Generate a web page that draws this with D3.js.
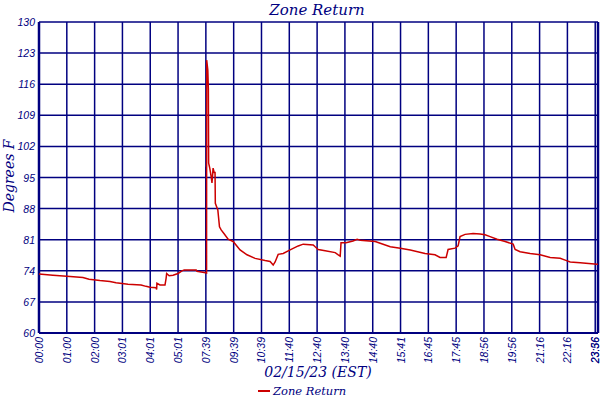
<!DOCTYPE html>
<html>
<head>
<meta charset="utf-8">
<script src="https://cdn.jsdelivr.net/npm/d3@7"></script>
<style>
  body { margin: 0; background: #fff; }
  svg { display: block; }
</style>
</head>
<body>
<svg id="chart"></svg>
<script>
// sample index (10 samples per tick) and temperature readings
var idx = [0, 5, 11.2, 15.8, 18, 21.9, 25.5, 27.7, 32, 36.7, 38.5, 39.9, 42.1, 42.3, 42.4, 43.5, 45.3, 45.7, 45.9, 46.8,
  48.2, 50, 51.4, 52.2, 56.5, 56.8, 59.4, 60.25, 60.3, 60.7, 60.9, 61, 61.4, 61.9, 62.2, 62.6, 63, 63.3, 63.4, 64.3,
  64.9, 65.5, 66.5, 68, 69.8, 72.3, 74.8, 77.7, 81.3, 83.1, 84.2, 84.9, 86, 87.8, 90.3, 93.2, 95, 98.6, 99.3, 100.4,
  102.9, 106.5, 107.6, 108.3, 108.6, 110.4, 112.9, 114.4, 115.5, 120.9, 122.7, 126.3, 129.9, 133.5, 138.8, 142.4, 144.2, 146.4, 147.1, 149.6,
  150.7, 151.4, 153.2, 156.1, 158.6, 160.4, 162.2, 164.7, 167.6, 170.5, 171.2, 173, 176.6, 180.2, 183.8, 187.4, 189.2, 191, 194.6, 200.7, 201];
var temp = [73.3, 73.0, 72.7, 72.5, 72.1, 71.8, 71.6, 71.3, 71.0, 70.8, 70.5, 70.3, 70.2, 69.8, 71.2, 70.8, 70.8, 72.3, 73.4, 72.9,
  73.0, 73.4, 74.0, 74.2, 74.2, 73.9, 73.6, 73.5, 121.4, 119.2, 114.9, 98.2, 97.1, 95.2, 93.8, 97.1, 96.1, 96.1, 89.2, 87.7,
  83.9, 83.2, 82.4, 81.1, 80.6, 78.7, 77.6, 76.8, 76.3, 76.1, 75.3, 76.0, 77.7, 77.9, 78.7, 79.6, 80.0, 79.8, 79.4, 78.8,
  78.5, 78.1, 77.6, 77.3, 80.3, 80.3, 80.7, 81.1, 80.9, 80.6, 80.2, 79.4, 79.1, 78.7, 77.9, 77.6, 77.0, 77.0, 78.8, 79.1,
  79.6, 81.7, 82.2, 82.4, 82.3, 82.1, 81.7, 81.1, 80.6, 80.0, 78.8, 78.3, 77.9, 77.6, 77.0, 76.8, 76.4, 76.0, 75.8, 75.5, 75.5];

// navy marker where the logging restarted
var gapIdx = [60];
var gapLow = [73.6];
var gapHigh = [97.4];

var xTickIdx = [0, 10, 20, 30, 40, 50, 60, 70, 80, 90, 100, 110, 120, 130, 140, 150, 160, 170, 180, 190, 200, 201];
var xTickLabels = ["00:00", "01:00", "02:00", "03:01", "04:01", "05:01", "07:39", "09:39", "10:39", "11:40", "12:40",
  "13:40", "14:40", "15:41", "16:45", "17:45", "18:56", "19:56", "21:16", "22:16", "23:36", "23:56"];
var yTicks = [60, 67, 74, 81, 88, 95, 102, 109, 116, 123, 130];

var W = 600, H = 400;
var margin = { top: 22, right: 2, bottom: 67, left: 39 };
var navy = "#000080";

var svg = d3.select("#chart").attr("width", W).attr("height", H);

var x = d3.scaleLinear().domain([0, 201]).range([margin.left, W - margin.right]);
var y = d3.scaleLinear().domain([60, 130]).range([H - margin.bottom, margin.top]);

// grid
svg.append("g")
  .selectAll("line.vg")
  .data(xTickIdx)
  .join("line")
  .attr("class", "vg")
  .attr("x1", d => x(d)).attr("x2", d => x(d))
  .attr("y1", y(60)).attr("y2", y(130))
  .attr("stroke", navy)
  .attr("stroke-width", d => (d === 0 || d === 201) ? 2.5 : 1.5);

svg.append("g")
  .selectAll("line.hg")
  .data(yTicks)
  .join("line")
  .attr("class", "hg")
  .attr("x1", x(0)).attr("x2", x(201))
  .attr("y1", d => y(d)).attr("y2", d => y(d))
  .attr("stroke", navy)
  .attr("stroke-width", d => d === 60 ? 2 : 1.5);

// y tick labels
svg.append("g")
  .selectAll("text")
  .data(yTicks)
  .join("text")
  .attr("x", margin.left - 4)
  .attr("y", d => y(d) + 4)
  .attr("text-anchor", "end")
  .attr("fill", navy)
  .style("font-family", "'Liberation Sans', Arial, sans-serif")
  .style("font-style", "italic")
  .style("font-size", "10.5px")
  .text(d => d);

// x tick labels
svg.append("g")
  .selectAll("text")
  .data(xTickIdx)
  .join("text")
  .attr("transform", d => `translate(${Math.min(x(d) + 4, W - 1)},${y(60) + 4}) rotate(-90)`)
  .attr("text-anchor", "end")
  .attr("fill", navy)
  .style("font-family", "'Liberation Sans', Arial, sans-serif")
  .style("font-style", "italic")
  .style("font-size", "10.5px")
  .text((d, i) => xTickLabels[i]);

// marker
svg.append("g")
  .selectAll("line")
  .data(gapIdx)
  .join("line")
  .attr("x1", d => x(d)).attr("x2", d => x(d))
  .attr("y1", (d, i) => y(gapLow[i]))
  .attr("y2", (d, i) => y(gapHigh[i]))
  .attr("stroke", navy)
  .attr("stroke-width", 1.6);

// series
var line = d3.line()
  .x((d, i) => x(idx[i]))
  .y(d => y(d));

svg.append("path")
  .datum(temp)
  .attr("d", line)
  .attr("fill", "none")
  .attr("stroke", "#cc0000")
  .attr("stroke-width", 1.5);

// titles
var serif = "'DejaVu Serif', 'Liberation Serif', serif";

svg.append("text")
  .attr("x", 317).attr("y", 15)
  .attr("text-anchor", "middle")
  .attr("fill", navy)
  .style("font-family", serif)
  .style("font-style", "italic")
  .style("font-size", "15px")
  .text("Zone Return");

svg.append("text")
  .attr("transform", "translate(14,176) rotate(-90)")
  .attr("text-anchor", "middle")
  .attr("fill", navy)
  .style("font-family", serif)
  .style("font-style", "italic")
  .style("font-size", "14px")
  .text("Degrees F");

svg.append("text")
  .attr("x", 318).attr("y", 377)
  .attr("text-anchor", "middle")
  .attr("fill", navy)
  .style("font-family", serif)
  .style("font-style", "italic")
  .style("font-size", "14px")
  .text("02/15/23 (EST)");

// legend
var legend = svg.append("g").attr("transform", "translate(258,391)");
legend.append("line")
  .attr("x1", 0).attr("x2", 12)
  .attr("y1", 0).attr("y2", 0)
  .attr("stroke", "#cc0000")
  .attr("stroke-width", 2);
legend.append("text")
  .attr("x", 15).attr("y", 4)
  .attr("fill", navy)
  .style("font-family", serif)
  .style("font-style", "italic")
  .style("font-size", "11.5px")
  .text("Zone Return");
</script>
</body>
</html>
